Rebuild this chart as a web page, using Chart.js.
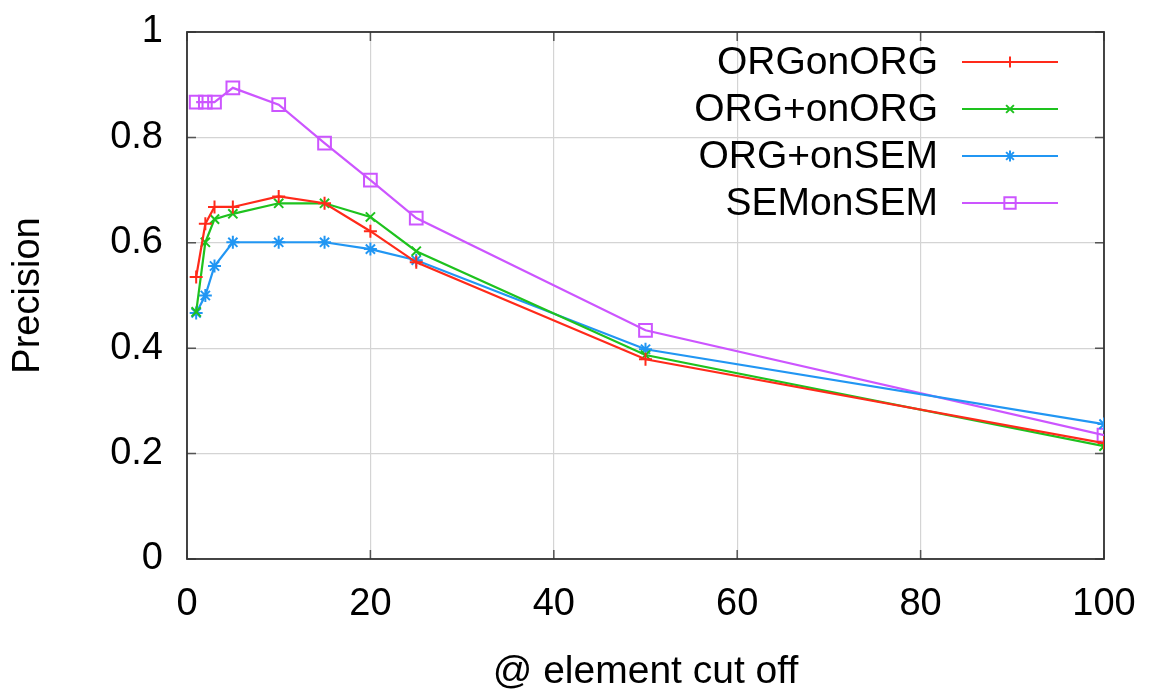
<!DOCTYPE html>
<html>
<head>
<meta charset="utf-8">
<script src="https://cdn.jsdelivr.net/npm/chart.js@4.4.1/dist/chart.umd.min.js"></script>
<style>
html,body{margin:0;padding:0;background:#fff;}
#wrap{width:1149px;height:693px;position:relative;}
</style>
</head>
<body>
<div id="wrap"><canvas id="c" width="1149" height="693"></canvas></div>
<script>
const cutoffs = [1, 2, 3, 5, 10, 15, 20, 25, 50, 100];
const orgOnOrg = [0.535, 0.636, 0.668, 0.668, 0.688, 0.675, 0.622, 0.563, 0.379, 0.220];
const orgPlusOnOrg = [0.469, 0.601, 0.645, 0.655, 0.675, 0.675, 0.649, 0.584, 0.387, 0.214];
const orgPlusOnSem = [0.467, 0.500, 0.556, 0.601, 0.601, 0.601, 0.588, 0.567, 0.398, 0.256];
const semOnSem = [0.867, 0.867, 0.867, 0.894, 0.862, 0.789, 0.719, 0.647, 0.434, 0.235];
const seriesNames = ['ORGonORG', 'ORG+onORG', 'ORG+onSEM', 'SEMonSEM'];
const seriesColors = ['#ff2a1a', '#1ec21e', '#2196f3', '#cc55ff'];
const seriesMarkers = ['cross', 'crossRot', 'star', 'rect'];
const xTicks = [0, 20, 40, 60, 80, 100];
const yTicks = [0, 0.2, 0.4, 0.6, 0.8, 1];

const FONT = "'Liberation Sans', Arial, Helvetica, sans-serif";
const allSeries = [orgOnOrg, orgPlusOnOrg, orgPlusOnSem, semOnSem];

const datasets = allSeries.map((vals, i) => ({
  label: seriesNames[i],
  data: cutoffs.map((x, j) => ({x: x, y: vals[j]})),
  borderColor: seriesColors[i],
  backgroundColor: seriesMarkers[i] === 'rect' ? 'rgba(255,255,255,0)' : seriesColors[i],
  pointBorderColor: seriesColors[i],
  pointBackgroundColor: seriesMarkers[i] === 'rect' ? 'rgba(255,255,255,0)' : seriesColors[i],
  pointStyle: seriesMarkers[i],
  pointRadius: seriesMarkers[i] === 'rect' ? 9 : 6.5,
  pointBorderWidth: 2,
  borderWidth: 2.2,
  tension: 0,
  fill: false
}));

const framePlugin = {
  id: 'frame',
  beforeDatasetsDraw(chart) {
    const {ctx, chartArea: a, scales} = chart;
    ctx.save();
    ctx.strokeStyle = '#555';
    ctx.lineWidth = 1.5;
    const tl = 9;
    ctx.beginPath();
    xTicks.forEach(v => {
      const px = scales.x.getPixelForValue(v);
      ctx.moveTo(px, a.bottom); ctx.lineTo(px, a.bottom - tl);
      ctx.moveTo(px, a.top); ctx.lineTo(px, a.top + tl);
    });
    yTicks.forEach(v => {
      const py = scales.y.getPixelForValue(v);
      ctx.moveTo(a.left, py); ctx.lineTo(a.left + tl, py);
      ctx.moveTo(a.right, py); ctx.lineTo(a.right - tl, py);
    });
    ctx.stroke();
    ctx.strokeStyle = '#333';
    ctx.lineWidth = 1.8;
    ctx.strokeRect(a.left, a.top, a.right - a.left, a.bottom - a.top);
    ctx.restore();
  }
};

const legendPlugin = {
  id: 'gpLegend',
  afterDatasetsDraw(chart) {
    const {ctx} = chart;
    ctx.save();
    const textRight = 938, lineL = 962, lineR = 1058, y0 = 62, dy = 47;
    chart.data.datasets.forEach((ds, i) => {
      const y = y0 + i * dy;
      ctx.fillStyle = '#000';
      ctx.font = '39px ' + FONT;
      ctx.textAlign = 'right';
      ctx.textBaseline = 'middle';
      ctx.fillText(ds.label, textRight, y + 1);
      ctx.strokeStyle = ds.borderColor;
      ctx.lineWidth = 2.2;
      ctx.beginPath();
      ctx.moveTo(lineL, y); ctx.lineTo(lineR, y);
      ctx.stroke();
      ctx.fillStyle = ds.pointBackgroundColor;
      ctx.strokeStyle = ds.borderColor;
      ctx.lineWidth = 2;
      Chart.helpers.drawPoint(ctx, {pointStyle: ds.pointStyle, radius: ds.pointStyle === 'rect' ? 8 : 5.5, borderWidth: 2, rotation: 0}, (lineL + lineR) / 2, y);
    });
    ctx.restore();
  }
};

new Chart(document.getElementById('c'), {
  type: 'line',
  data: {datasets: datasets},
  options: {
    responsive: false,
    animation: false,
    layout: {padding: {top: 32, right: 45, left: 0, bottom: 0}},
    plugins: {legend: {display: false}, tooltip: {enabled: false}},
    scales: {
      x: {
        type: 'linear',
        min: 0, max: 100,
        afterFit(s) { s.height = 134; s.paddingLeft = 0; s.paddingRight = 0; },
        afterBuildTicks(s) { s.ticks = xTicks.map(v => ({value: v})); },
        grid: {color: '#d4d4d4', lineWidth: 1.2, drawTicks: false},
        border: {display: false},
        ticks: {color: '#000', font: {family: FONT, size: 38, lineHeight: 1}, padding: 27, maxRotation: 0},
        title: {display: true, text: '@ element cut off', color: '#000', font: {family: FONT, size: 39, lineHeight: 1}, padding: {top: 0, bottom: 1}}
      },
      y: {
        type: 'linear',
        min: 0, max: 1,
        afterFit(s) { s.width = 187; s.paddingTop = 0; s.paddingBottom = 0; },
        afterBuildTicks(s) { s.ticks = yTicks.map(v => ({value: v})); },
        grid: {color: '#d4d4d4', lineWidth: 1.2, drawTicks: false},
        border: {display: false},
        ticks: {color: '#000', font: {family: FONT, size: 38, lineHeight: 1}, padding: 24, callback: v => String(v)},
        title: {display: true, text: 'Precision', color: '#000', font: {family: FONT, size: 38, lineHeight: 1}, padding: {top: 10, bottom: 0}}
      }
    }
  },
  plugins: [framePlugin, legendPlugin]
});
</script>
</body>
</html>
